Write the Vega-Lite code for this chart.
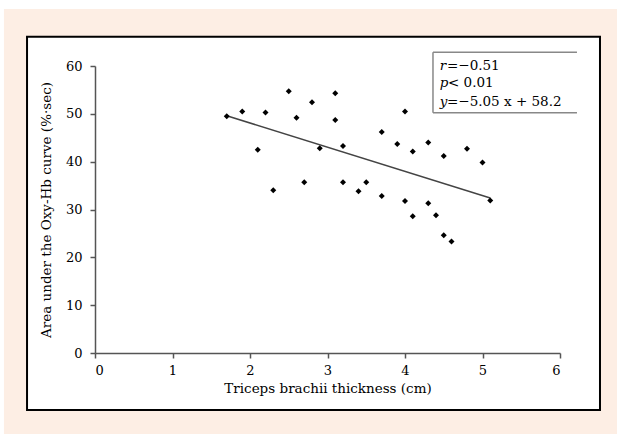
{
  "$schema": "https://vega.github.io/schema/vega-lite/v6.json",
  "autosize": "none",
  "width": 465,
  "height": 287,
  "padding": {"left": 95, "top": 66, "right": 57, "bottom": 81},
  "background": "white",
  "config": {
    "view": {"stroke": null},
    "font": "DejaVu Serif"
  },
  "datasets": {
    "pts": [
      {"x": 1.7, "y": 49.5}, {"x": 1.9, "y": 50.5}, {"x": 2.1, "y": 42.5}, {"x": 2.2, "y": 50.3},
      {"x": 2.3, "y": 34.0}, {"x": 2.5, "y": 54.7}, {"x": 2.6, "y": 49.2}, {"x": 2.7, "y": 35.7},
      {"x": 2.8, "y": 52.4}, {"x": 2.9, "y": 42.8}, {"x": 3.1, "y": 54.3}, {"x": 3.1, "y": 48.7},
      {"x": 3.2, "y": 43.3}, {"x": 3.2, "y": 35.7}, {"x": 3.4, "y": 33.8}, {"x": 3.5, "y": 35.7},
      {"x": 3.7, "y": 46.2}, {"x": 3.7, "y": 32.8}, {"x": 3.9, "y": 43.7}, {"x": 4.0, "y": 50.5},
      {"x": 4.0, "y": 31.8}, {"x": 4.1, "y": 42.1}, {"x": 4.1, "y": 28.6}, {"x": 4.3, "y": 44.0},
      {"x": 4.3, "y": 31.3}, {"x": 4.4, "y": 28.8}, {"x": 4.5, "y": 41.2}, {"x": 4.5, "y": 24.6},
      {"x": 4.6, "y": 23.3}, {"x": 4.8, "y": 42.7}, {"x": 5.0, "y": 39.8}, {"x": 5.1, "y": 31.9}
    ],
    "fit": [{"x": 1.7, "y": 49.6}, {"x": 5.1, "y": 32.4}],
    "peach": [{"x": -1.175, "x2": 6.8, "y": 71.9, "y2": -18.5}],
    "frame": [{"x": -0.877, "x2": 6.516, "y": -11.9, "y2": 66.1}],
    "box": [
      {"x": 4.361, "x2": 6.219, "y": 62.87, "y2": 62.87},
      {"x": 4.361, "x2": 6.219, "y": 50.24, "y2": 50.24},
      {"x": 4.361, "x2": 4.361, "y": 50.24, "y2": 62.87}
    ],
    "letters": [
      {"x": 4.448, "y": 60.0, "t": "r"},
      {"x": 4.448, "y": 56.38, "t": "p"},
      {"x": 4.448, "y": 52.54, "t": "y"}
    ],
    "rest": [
      {"x": 4.542, "y": 60.0, "t": "=−0.51"},
      {"x": 4.555, "y": 56.38, "t": "< 0.01"},
      {"x": 4.542, "y": 52.54, "t": "=−5.05 x + 58.2"}
    ]
  },
  "encoding": {
    "x": {"field": "x", "type": "quantitative", "scale": {"domain": [0, 6]},
      "axis": {"zindex": 1, "title": "Triceps brachii thickness (cm)", "values": [0,1,2,3,4,5,6], "grid": false,
        "domainColor": "#555", "domainWidth": 1.5, "tickColor": "#555", "tickWidth": 1.5, "tickSize": 5,
        "labelFont": "DejaVu Serif", "labelFontSize": 13, "labelColor": "black", "labelPadding": 6,
        "titleFont": "DejaVu Serif", "titleFontSize": 13.5, "titleFontWeight": "normal", "titleColor": "black", "titlePadding": 4}},
    "y": {"field": "y", "type": "quantitative", "scale": {"domain": [0, 60]},
      "axis": {"zindex": 1, "title": "Area under the Oxy-Hb curve (%·sec)", "values": [0,10,20,30,40,50,60], "grid": false,
        "domainColor": "#555", "domainWidth": 1.5, "tickColor": "#555", "tickWidth": 1.5, "tickSize": 5,
        "labelFont": "DejaVu Serif", "labelFontSize": 13, "labelColor": "black", "labelPadding": 8,
        "titleFont": "DejaVu Serif", "titleFontSize": 13.5, "titleFontWeight": "normal", "titleColor": "black", "titlePadding": 12}}
  },
  "layer": [
    {
      "data": {"name": "peach"},
      "mark": {"type": "rect", "fill": "#fdeee4", "clip": false},
      "encoding": {"x2": {"field": "x2"}, "y2": {"field": "y2"}}
    },
    {
      "data": {"name": "frame"},
      "mark": {"type": "rect", "fill": "white", "stroke": "black", "strokeWidth": 2, "clip": false},
      "encoding": {"x2": {"field": "x2"}, "y2": {"field": "y2"}}
    },
    {
      "data": {"name": "box"},
      "mark": {"type": "rule", "stroke": "#888", "strokeWidth": 1.5, "clip": false},
      "encoding": {"x2": {"field": "x2"}, "y2": {"field": "y2"}}
    },
    {
      "data": {"name": "fit"},
      "mark": {"type": "line", "stroke": "#444", "strokeWidth": 1.5},
      "encoding": {}
    },
    {
      "data": {"name": "pts"},
      "mark": {"type": "point", "shape": "diamond", "filled": true, "color": "black", "size": 36, "opacity": 1},
      "encoding": {}
    },
    {
      "data": {"name": "letters"},
      "mark": {"type": "text", "align": "left", "baseline": "middle", "font": "DejaVu Serif", "fontSize": 13.5, "fontStyle": "italic", "color": "black", "clip": false},
      "encoding": {"text": {"field": "t"}}
    },
    {
      "data": {"name": "rest"},
      "mark": {"type": "text", "align": "left", "baseline": "middle", "font": "DejaVu Serif", "fontSize": 13.5, "color": "black", "clip": false},
      "encoding": {"text": {"field": "t"}}
    }
  ]
}
